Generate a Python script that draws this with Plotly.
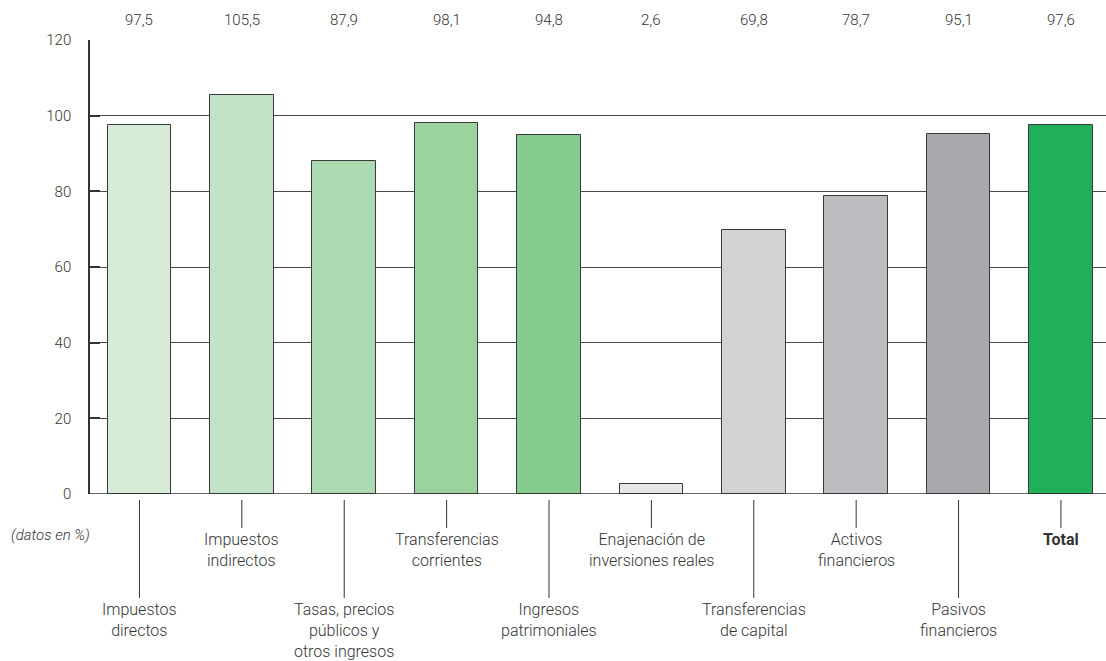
import plotly.graph_objects as go

categories = ["Impuestos<br>directos", "Impuestos<br>indirectos", "Tasas, precios<br>públicos y<br>otros ingresos",
              "Transferencias<br>corrientes", "Ingresos<br>patrimoniales", "Enajenación de<br>inversiones reales",
              "Transferencias<br>de capital", "Activos<br>financieros", "Pasivos<br>financieros", "<b>Total</b>"]
values = [97.5, 105.5, 87.9, 98.1, 94.8, 2.6, 69.8, 78.7, 95.1, 97.6]
value_labels = ["97,5", "105,5", "87,9", "98,1", "94,8", "2,6", "69,8", "78,7", "95,1", "97,6"]
colors = ["#d5ead7", "#c3e3c6", "#acdab0", "#9bd3a0", "#87cc8f",
          "#e6e7e8", "#d1d2d4", "#bcbdc0", "#a7a9ac", "#20b05a"]
long_leader = [True, False, True, False, True, False, True, False, True, False]

FONT = "Roboto, sans-serif"
TXT = "#333333"

W, H = 1106, 661
PT, PB, PL, PR = 40, 494, 90, 1106


def py(pix):
    return (PB - pix) / (PB - PT)


def px(pix):
    return (pix - PL) / (PR - PL)


xs = list(range(len(values)))
fig = go.Figure(go.Bar(
    x=xs, y=values, width=0.62,
    marker=dict(color=colors, line=dict(color="#3a3a3a", width=1)),
    hoverinfo="skip",
))

shapes = []
annotations = []
for i, (lab, vl, lg) in enumerate(zip(categories, value_labels, long_leader)):
    annotations.append(dict(x=i, y=py(20), xref="x", yref="paper", text=vl, showarrow=False,
                            font=dict(size=15, color=TXT, family=FONT, weight=300), yanchor="middle"))
    end = 598 if lg else 528
    shapes.append(dict(type="line", xref="x", yref="paper", x0=i, x1=i, y0=py(500), y1=py(end),
                       line=dict(color="#333333", width=1)))
    annotations.append(dict(x=i, y=py(end), xref="x", yref="paper", text=lab, showarrow=False,
                            font=dict(size=16, color=TXT, family=FONT, weight=300),
                            yanchor="top", align="center"))

annotations.append(dict(x=px(50), y=py(535), xref="paper", yref="paper", text="<i>(datos en %)</i>",
                        showarrow=False, xanchor="center", yanchor="middle",
                        font=dict(size=15, color=TXT, family=FONT, weight=300)))

fig.update_layout(
    width=W, height=H,
    margin=dict(l=PL, r=W - PR, t=PT, b=H - PB, pad=0),
    paper_bgcolor="white", plot_bgcolor="white",
    showlegend=False,
    bargap=0,
    xaxis=dict(range=[-0.483, 9.44], showticklabels=False, showgrid=False, zeroline=False,
               showline=False, ticks=""),
    yaxis=dict(range=[0, 120], tickvals=[0, 20, 40, 60, 80, 100, 120],
               ticks="inside", ticklen=10, tickwidth=2, tickcolor="#333333",
               showgrid=True, gridcolor="#4a4a4a", gridwidth=1,
               showline=True, linecolor="#333333", linewidth=1.5,
               zeroline=False, ticklabelstandoff=14,
               tickfont=dict(size=15, color=TXT, family=FONT, weight=300)),
    shapes=shapes + [dict(type="line", xref="paper", yref="y", x0=0, x1=1, y0=0, y1=0,
                          line=dict(color="#333333", width=1.5))],
    annotations=annotations,
)

fig.write_html("out.html")
